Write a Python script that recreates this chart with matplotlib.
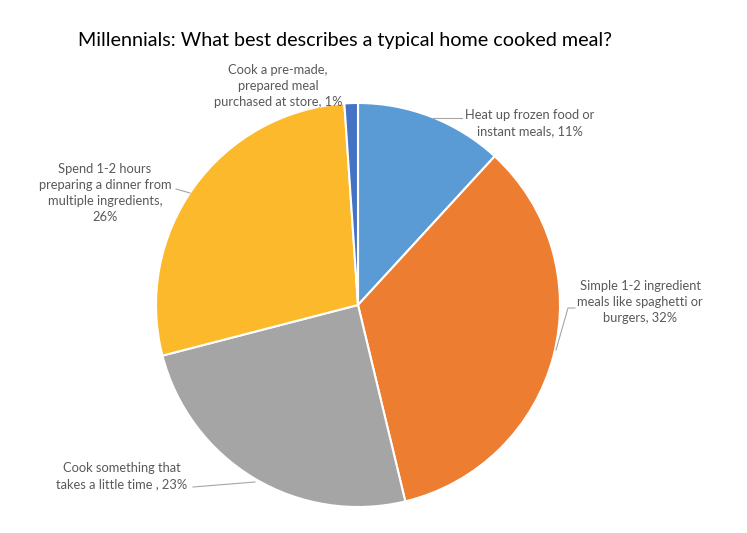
import matplotlib

matplotlib.use("Agg")
import matplotlib.pyplot as plt

# data
categories = [
    "Heat up frozen food or\ninstant meals, 11%",
    "Simple 1-2 ingredient\nmeals like spaghetti or\nburgers, 32%",
    "Cook something that\ntakes a little time , 23%",
    "Spend 1-2 hours\npreparing a dinner from\nmultiple ingredients,\n26%",
    "Cook a pre-made,\nprepared meal\npurchased at store, 1%",
]
values = [11, 32, 23, 26, 1]
colors = ["#5B9BD5", "#ED7D31", "#A5A5A5", "#FDB92C", "#4472C4"]
title = "Millennials: What best describes a typical home cooked meal?"

plt.rcParams["font.family"] = ["Lato", "DejaVu Sans"]

W, H = 747, 533
CX, CY, R = 358, 305, 202


def px(x, y):
    # pixel (from top-left) -> data units, pie at origin with radius 1
    return (x - CX) / R, (CY - y) / R


fig = plt.figure(figsize=(W / 100, H / 100), dpi=100)
ax = fig.add_axes([0, 0, 1, 1])

ax.pie(values, colors=colors, startangle=90, counterclock=False, radius=1,
       wedgeprops=dict(edgecolor="white", linewidth=1.5))

# pie() resets the limits, so set them afterwards
ax.set_xlim(px(0, 0)[0], px(W, 0)[0])
ax.set_ylim(px(0, H)[1], px(0, 0)[1])
ax.set_aspect("auto")
ax.axis("off")

# label placement (pixel centres) and leader lines
label_pos = [(530, 123), (640, 302), (122, 476), (105, 193), (278, 86)]
leaders = [
    [(433, 118), (462, 118)],
    [(556, 350), (568, 308), (575, 308)],
    [(255, 482), (193, 487)],
    [(190, 193), (176, 189)],
    None,
]
label_color = "#595959"
for text, (lx, ly), lead in zip(categories, label_pos, leaders):
    x, y = px(lx, ly)
    ax.text(x, y, text, ha="center", va="center", fontsize=9.3,
            color=label_color, linespacing=1.4)
    if lead:
        xs, ys = zip(*[px(a, b) for a, b in lead])
        ax.plot(xs, ys, color="#A6A6A6", lw=0.8)

tx, ty = px(345, 40)
ax.text(tx, ty, title, ha="center", va="center", fontsize=14.2, color="black")

fig.savefig("out.png", dpi=100)
plt.close(fig)
